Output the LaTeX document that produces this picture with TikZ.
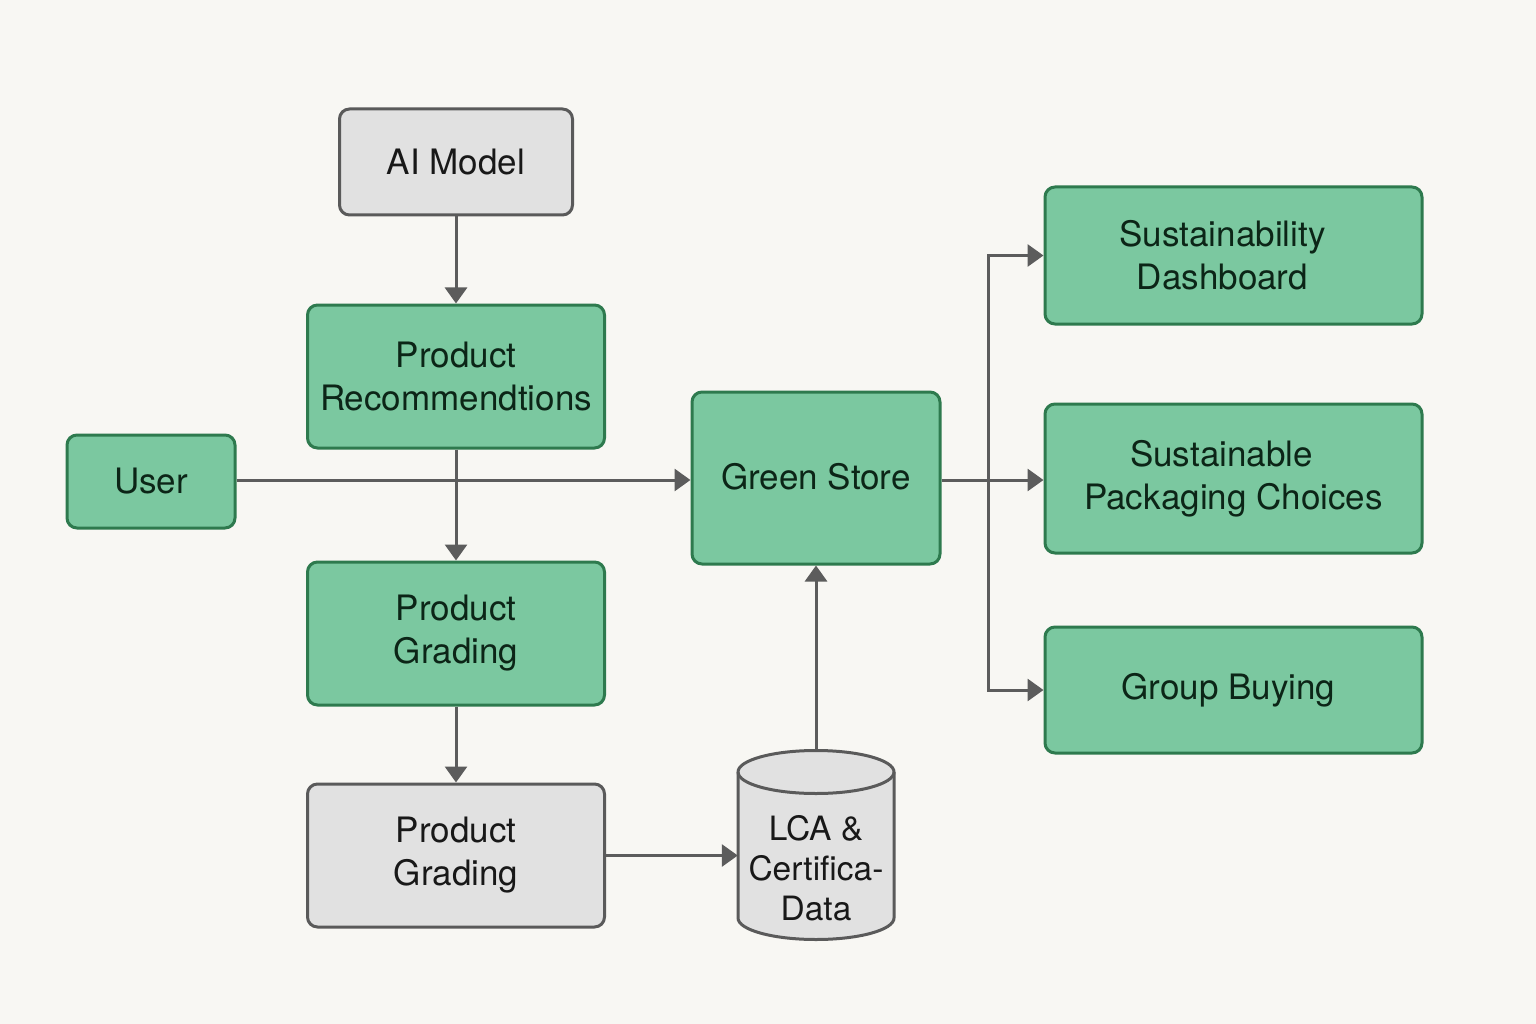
\documentclass[tikz,border=0pt]{standalone}
\usepackage{fontspec}
\setmainfont{TeX Gyre Heros}
\usetikzlibrary{arrows.meta}
\definecolor{bg}{HTML}{F8F7F3}
\definecolor{gfill}{HTML}{7BC8A0}
\definecolor{gborder}{HTML}{2E7A4E}
\definecolor{gtext}{HTML}{0C2517}
\definecolor{grayfill}{HTML}{E1E1E1}
\definecolor{grayborder}{HTML}{5A5A5A}
\definecolor{graytext}{HTML}{181818}
\definecolor{conn}{HTML}{5C5C5C}
\tikzset{
  base/.style={rectangle, rounded corners=10pt, line width=3pt, align=center,
    inner sep=0pt, font=\fontsize{35}{43}\selectfont},
  gbox/.style={base, draw=gborder, fill=gfill, text=gtext},
  graybox/.style={base, draw=grayborder, fill=grayfill, text=graytext},
  arr/.style={draw=conn, line width=3pt, -{Triangle[length=16pt,width=22pt]}},
}
\begin{document}
\begin{tikzpicture}[x=1pt,y=-1pt]
\fill[bg] (0,0) rectangle (1536,1024);
\useasboundingbox (0,0) rectangle (1536,1024);

\node[graybox, minimum width=233pt, minimum height=106pt] (ai) at (456,162) {AI Model};
\node[gbox, minimum width=297pt, minimum height=143pt] (rec) at (456,376.5) {Product\\Recommendtions};
\node[gbox, minimum width=168pt, minimum height=93pt] (user) at (151,481.5) {User};
\node[gbox, minimum width=248pt, minimum height=172pt] (store) at (816,478) {\raisebox{4pt}{Green Store}};
\node[gbox, minimum width=297pt, minimum height=143pt] (grad1) at (456,633.5) {Product\\Grading};
\node[graybox, minimum width=297pt, minimum height=143pt] (grad2) at (456,855.5) {Product\\Grading};
\node[gbox, minimum width=377pt, minimum height=137pt] (dash) at (1233.5,255.5) {Sustainability\hspace*{22pt}\\Dashboard\hspace*{22pt}};
\node[gbox, minimum width=377pt, minimum height=149pt] (pack) at (1233.5,478.5) {Sustainable\hspace*{24pt}\\Packaging Choices};
\node[gbox, minimum width=377pt, minimum height=126pt] (grp) at (1233.5,690) {Group Buying\hspace*{10pt}};

% cylinder
\node[rectangle, minimum width=156pt, minimum height=190pt, inner sep=0pt] (lca) at (816,845) {};
\path[draw=grayborder, fill=grayfill, line width=3pt]
  (738,772) -- (738,918) arc[start angle=180, end angle=360, x radius=78, y radius=-21.5]
  -- (894,772) arc[start angle=0, end angle=180, x radius=78, y radius=-21.5] -- cycle;
\path[draw=grayborder, line width=3pt]
  (738,772) arc[start angle=180, end angle=360, x radius=78, y radius=-21.5];
\node[align=center, text=graytext, font=\fontsize{33.5}{40}\selectfont] (lcatext) at (816,868) {LCA \&\\Certifica-\\Data};

% connectors
\draw[arr] (ai.south) -- (rec.north);
\draw[arr] (user.east |- 0,480) -- (store.west |- 0,480);
\draw[arr] (rec.south) -- (grad1.north);
\draw[arr] (grad1.south) -- (grad2.north);
\draw[arr] (grad2.east) -- (grad2.east -| lca.west);
\draw[arr] (lca.north) -- (store.south);
\coordinate (br) at (988,480);
\draw[arr] (store.east |- br) -- (pack.west |- br);
\draw[arr] (br) |- (dash.west);
\draw[arr] (br) |- (grp.west);
\end{tikzpicture}
\end{document}
